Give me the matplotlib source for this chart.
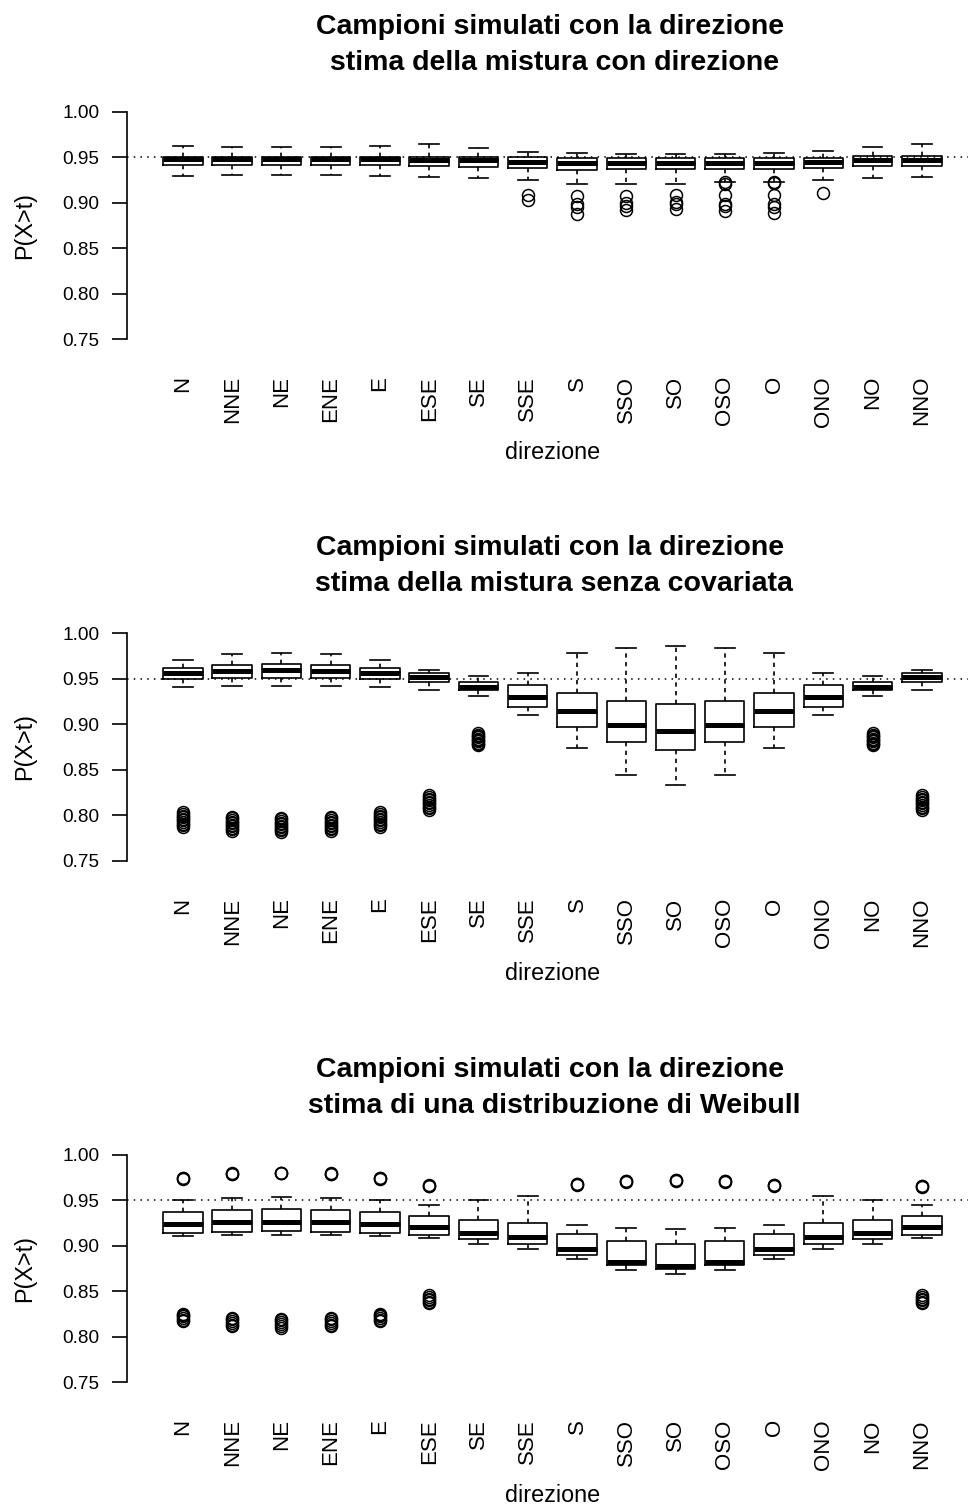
import matplotlib
matplotlib.use('Agg')
import matplotlib.pyplot as plt

plt.rcParams['font.family'] = ['Liberation Sans', 'DejaVu Sans']

directions = ['N', 'NNE', 'NE', 'ENE', 'E', 'ESE', 'SE', 'SSE',
              'S', 'SSO', 'SO', 'OSO', 'O', 'ONO', 'NO', 'NNO']
soglia = 0.95

# --- mistura con direzione ---
con_whishi = [0.9627, 0.9612, 0.9612, 0.9612, 0.9627, 0.9649, 0.9601, 0.9561,
              0.9550, 0.9539, 0.9535, 0.9535, 0.9546, 0.9572, 0.9612, 0.9649]
con_q3 = [0.9506, 0.9506, 0.9506, 0.9506, 0.9506, 0.9506, 0.9506, 0.9497,
          0.9486, 0.9486, 0.9486, 0.9486, 0.9486, 0.9495, 0.9510, 0.9510]
con_med = [0.9475, 0.9475, 0.9475, 0.9475, 0.9475, 0.9470, 0.9465, 0.9450,
           0.9440, 0.9437, 0.9437, 0.9437, 0.9440, 0.9450, 0.9470, 0.9472]
con_q1 = [0.9410, 0.9410, 0.9410, 0.9410, 0.9410, 0.9400, 0.9397, 0.9380,
          0.9363, 0.9367, 0.9367, 0.9367, 0.9370, 0.9385, 0.9404, 0.9404]
con_whislo = [0.9297, 0.9305, 0.9308, 0.9305, 0.9297, 0.9286, 0.9272, 0.9250,
              0.9202, 0.9209, 0.9209, 0.9231, 0.9231, 0.9250, 0.9272, 0.9286]
con_fliers = [[], [], [], [], [], [], [],
              [0.9085, 0.9030],
              [0.9070, 0.8990, 0.8950, 0.8875],
              [0.9078, 0.8995, 0.8965, 0.8915],
              [0.9085, 0.9010, 0.8986, 0.8925],
              [0.9222, 0.9210, 0.9080, 0.8990, 0.8965, 0.8905],
              [0.9231, 0.9215, 0.9083, 0.8990, 0.8955, 0.8890],
              [0.9103],
              [], []]

# --- mistura senza covariata ---
senza_whishi = [0.9706, 0.9768, 0.9786, 0.9768, 0.9706, 0.9595, 0.9529, 0.9559,
                0.9783, 0.9842, 0.9856, 0.9842, 0.9783, 0.9559, 0.9529, 0.9595]
senza_q3 = [0.9614, 0.9647, 0.9658, 0.9647, 0.9614, 0.9559, 0.9459, 0.9430,
            0.9338, 0.9257, 0.9220, 0.9257, 0.9338, 0.9430, 0.9459, 0.9559]
senza_med = [0.9562, 0.9588, 0.9595, 0.9588, 0.9562, 0.9514, 0.9411, 0.9301,
             0.9147, 0.8989, 0.8923, 0.8989, 0.9147, 0.9301, 0.9411, 0.9514]
senza_q1 = [0.9496, 0.9503, 0.9503, 0.9503, 0.9496, 0.9467, 0.9375, 0.9184,
            0.8967, 0.8805, 0.8720, 0.8805, 0.8967, 0.9184, 0.9375, 0.9467]
senza_whislo = [0.9408, 0.9419, 0.9422, 0.9419, 0.9408, 0.9378, 0.9309, 0.9099,
                0.8739, 0.8441, 0.8334, 0.8441, 0.8739, 0.9099, 0.9309, 0.9378]
senza_fliers = [
    [0.8030, 0.8012, 0.7995, 0.7978, 0.7960, 0.7942, 0.7925, 0.7908, 0.7890, 0.7875],
    [0.7981, 0.7965, 0.7948, 0.7930, 0.7912, 0.7895, 0.7878, 0.7860, 0.7845, 0.7830],
    [0.7970, 0.7953, 0.7936, 0.7918, 0.7900, 0.7883, 0.7866, 0.7850, 0.7835, 0.7820],
    [0.7981, 0.7965, 0.7948, 0.7930, 0.7912, 0.7895, 0.7878, 0.7860, 0.7845, 0.7830],
    [0.8030, 0.8012, 0.7995, 0.7978, 0.7960, 0.7942, 0.7925, 0.7908, 0.7890, 0.7875],
    [0.8217, 0.8200, 0.8183, 0.8165, 0.8148, 0.8130, 0.8112, 0.8095, 0.8078, 0.8060],
    [0.8900, 0.8885, 0.8870, 0.8855, 0.8840, 0.8825, 0.8810, 0.8795, 0.8780, 0.8767],
    [], [], [], [], [], [], [],
    [0.8900, 0.8885, 0.8870, 0.8855, 0.8840, 0.8825, 0.8810, 0.8795, 0.8780, 0.8767],
    [0.8217, 0.8200, 0.8183, 0.8165, 0.8148, 0.8130, 0.8112, 0.8095, 0.8078, 0.8060],
]

# --- Weibull ---
weib_whishi = [0.9504, 0.9529, 0.9541, 0.9529, 0.9504, 0.9449, 0.9504, 0.9552,
               0.9235, 0.9202, 0.9184, 0.9202, 0.9235, 0.9552, 0.9504, 0.9449]
weib_q3 = [0.9371, 0.9393, 0.9401, 0.9393, 0.9371, 0.9324, 0.9283, 0.9257,
           0.9129, 0.9052, 0.9026, 0.9052, 0.9129, 0.9257, 0.9283, 0.9324]
weib_med = [0.9246, 0.9265, 0.9268, 0.9265, 0.9246, 0.9206, 0.9140, 0.9099,
            0.8971, 0.8827, 0.8783, 0.8827, 0.8971, 0.9099, 0.9140, 0.9206]
weib_q1 = [0.9143, 0.9154, 0.9162, 0.9154, 0.9143, 0.9118, 0.9074, 0.9018,
           0.8905, 0.8794, 0.8743, 0.8794, 0.8905, 0.9018, 0.9074, 0.9118]
weib_whislo = [0.9107, 0.9118, 0.9121, 0.9118, 0.9107, 0.9088, 0.9018, 0.8967,
               0.8857, 0.8739, 0.8688, 0.8739, 0.8857, 0.8967, 0.9018, 0.9088]
weib_fliers = [
    [0.9748, 0.9743, 0.9738, 0.8254, 0.8240, 0.8225, 0.8205, 0.8185, 0.8170],
    [0.9799, 0.9794, 0.9789, 0.8210, 0.8195, 0.8175, 0.8155, 0.8135, 0.8118],
    [0.9807, 0.9802, 0.9797, 0.8199, 0.8180, 0.8160, 0.8140, 0.8120, 0.8100],
    [0.9799, 0.9794, 0.9789, 0.8210, 0.8195, 0.8175, 0.8155, 0.8135, 0.8118],
    [0.9748, 0.9743, 0.9738, 0.8254, 0.8240, 0.8225, 0.8205, 0.8185, 0.8170],
    [0.9667, 0.9662, 0.9657, 0.8456, 0.8440, 0.8420, 0.8400, 0.8385, 0.8371],
    [], [],
    [0.9682, 0.9677, 0.9672],
    [0.9718, 0.9713, 0.9708],
    [0.9726, 0.9721, 0.9716],
    [0.9718, 0.9713, 0.9708],
    [0.9674, 0.9669, 0.9664],
    [], [],
    [0.9663, 0.9658, 0.9653, 0.8456, 0.8440, 0.8420, 0.8400, 0.8385, 0.8371],
]

titoli = ["Campioni simulati con la direzione\n stima della mistura con direzione",
          "Campioni simulati con la direzione\n stima della mistura senza covariata",
          "Campioni simulati con la direzione\n stima di una distribuzione di Weibull"]

W, H = 968, 1506
fig = plt.figure(figsize=(W / 100, H / 100), dpi=100)

lw = 1.2


def pannello(top_px, whislo, q1, med, q3, whishi, fliers, titolo):
    left, right, h = 126.7, 978.0, 245.5
    ax = fig.add_axes([left / W, 1 - (top_px + h) / H, (right - left) / W, h / H])
    stats = []
    for i, d in enumerate(directions):
        stats.append(dict(label=d, whislo=whislo[i], q1=q1[i], med=med[i],
                          q3=q3[i], whishi=whishi[i], fliers=fliers[i]))
    ax.bxp(stats, positions=range(1, len(directions) + 1), widths=0.8, capwidths=0.4,
           boxprops=dict(color='black', lw=lw),
           medianprops=dict(color='black', lw=3.6, solid_capstyle='butt'),
           whiskerprops=dict(color='black', lw=lw, linestyle=(0, (2.6, 2.6))),
           capprops=dict(color='black', lw=lw),
           flierprops=dict(marker='o', markerfacecolor='none', markeredgecolor='black',
                           markersize=8.6, markeredgewidth=1.1, linestyle='none'))
    ax.axhline(soglia, color='black', lw=1.1, linestyle=(0, (1, 3.4)), zorder=5)

    ax.set_xlim(-0.14, len(directions) + 1.14)
    ax.set_ylim(0.74, 1.01)
    ax.set_yticks([0.75, 0.80, 0.85, 0.90, 0.95, 1.00])
    ax.set_yticklabels(['%.2f' % v for v in [0.75, 0.80, 0.85, 0.90, 0.95, 1.00]])
    for s in ['top', 'right', 'bottom']:
        ax.spines[s].set_visible(False)
    ax.spines['left'].set_bounds(0.75, 1.00)
    ax.spines['left'].set_linewidth(lw)
    ax.tick_params(axis='y', length=10.8, width=lw, pad=9, labelsize=13.7)
    ax.tick_params(axis='x', length=0, pad=20, labelsize=16, labelrotation=90)

    ax.text(-0.1195, 0.5, 'P(X>t)', transform=ax.transAxes, rotation=90,
            ha='center', va='center', fontsize=16.8)
    ax.text(0.5, -0.424, 'direzione', transform=ax.transAxes,
            ha='center', va='center', fontsize=16.8)
    ax.text(0.4975, 1 + 58 / h, titolo, transform=ax.transAxes, ha='center',
            va='center', fontsize=20.5, fontweight='bold', linespacing=1.5)
    return ax


pannello(102.6, con_whislo, con_q1, con_med, con_q3, con_whishi, con_fliers, titoli[0])
pannello(624.2, senza_whislo, senza_q1, senza_med, senza_q3, senza_whishi, senza_fliers, titoli[1])
pannello(1145.9, weib_whislo, weib_q1, weib_med, weib_q3, weib_whishi, weib_fliers, titoli[2])

fig.savefig('out.png', dpi=100)
